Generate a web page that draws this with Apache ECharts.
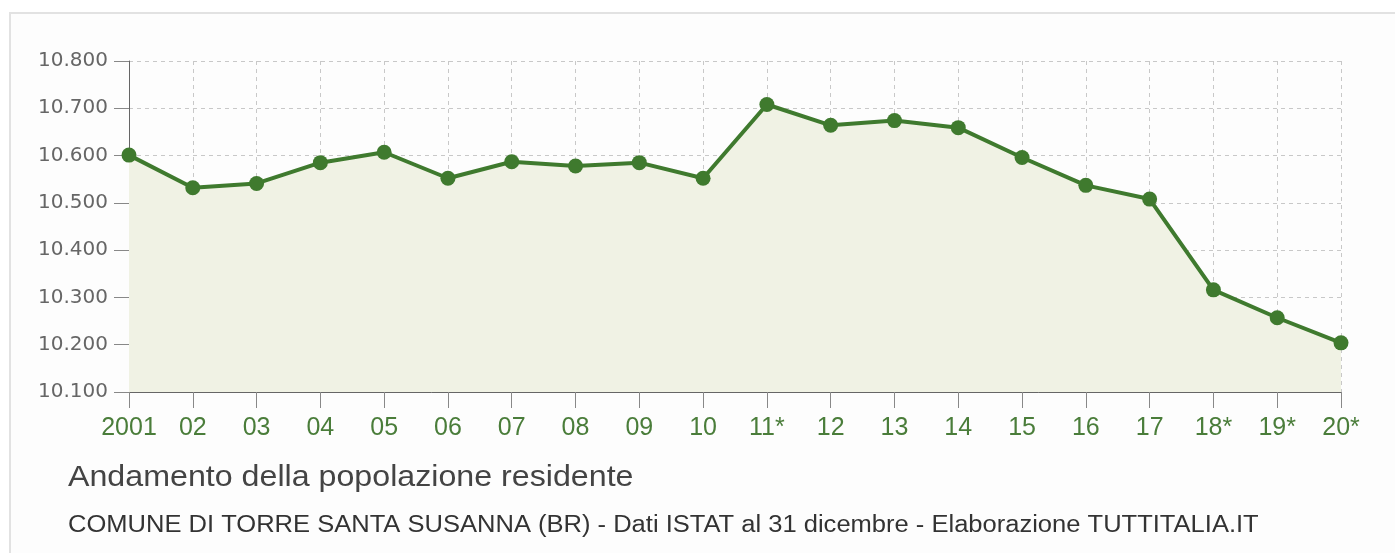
<!DOCTYPE html>
<html>
<head>
<meta charset="utf-8">
<script src="https://cdn.jsdelivr.net/npm/echarts@6/dist/echarts.min.js"></script>
<style>
  html, body { margin: 0; padding: 0; background: #fff; }
  .box {
    position: absolute; left: 9px; top: 12px; width: 1400px; height: 560px;
    border: 2px solid #e2e2e2; background: #fdfdfd;
  }
  #chart { position: absolute; left: 0; top: 0; width: 1395px; height: 553px; }
</style>
</head>
<body>
<div class="box"></div>
<div id="chart"></div>
<script>
// anni (etichette asse x)
var years = ['2001', '02', '03', '04', '05', '06', '07', '08', '09', '10',
  '11*', '12', '13', '14', '15', '16', '17', '18*', '19*', '20*']
// popolazione residente al 31 dicembre
var population = [10601, 10532, 10541, 10585, 10607, 10552, 10587, 10578, 10585, 10552,
  10708, 10664, 10674, 10659, 10596, 10537, 10508, 10316, 10257, 10204]
var yMin = 10100
var yMax = 10800
var yStep = 100

var title = 'Andamento della popolazione residente'
var subtitle = 'COMUNE DI TORRE SANTA SUSANNA (BR) - Dati ISTAT al 31 dicembre - Elaborazione TUTTITALIA.IT'

var green = '#3f7a2e'
var font = '"Liberation Sans", Arial, sans-serif'

function fmt (v) {
  var s = String(v)
  return s.slice(0, s.length - 3) + '.' + s.slice(s.length - 3)
}

var chart = echarts.init(document.getElementById('chart'))
chart.setOption({
  animation: false,
  textStyle: { fontFamily: font },
  // titoli come testo grafico (leggermente allargato come nell'originale)
  graphic: [
    {
      type: 'text', x: 68, y: 478, scaleX: 1.11, originX: 0,
      style: { text: title, font: '29px "Liberation Sans", Arial, sans-serif', fill: '#444', verticalAlign: 'middle' }
    },
    {
      type: 'text', x: 68, y: 526, scaleX: 1.11, originX: 0,
      style: { text: subtitle, font: '23px "Liberation Sans", Arial, sans-serif', fill: '#333', verticalAlign: 'middle' }
    }
  ],
  grid: { left: 129, right: 54, top: 61, bottom: 161, containLabel: false },
  xAxis: {
    type: 'category',
    data: years,
    boundaryGap: false,
    axisLine: { lineStyle: { color: '#666', width: 1 } },
    axisTick: { length: 16, alignWithLabel: true, interval: 0, lineStyle: { color: '#888' } },
    axisLabel: { color: '#4a7d3a', fontSize: 25, margin: 24, interval: 0, fontFamily: font },
    splitLine: { show: true, interval: 0, lineStyle: { color: '#c8c8c8', type: [4, 4] } }
  },
  yAxis: {
    type: 'value',
    min: yMin,
    max: yMax,
    interval: yStep,
    axisLine: { show: true, lineStyle: { color: '#666', width: 1 } },
    axisTick: { show: true, length: 15, lineStyle: { color: '#888' } },
    axisLabel: { color: '#666', fontSize: 20, margin: 21, fontFamily: '"DejaVu Sans", sans-serif', formatter: fmt },
    splitLine: { show: true, lineStyle: { color: '#c8c8c8', type: [4, 4] } }
  },
  series: [{
    type: 'line',
    data: population,
    symbol: 'circle',
    symbolSize: 15,
    lineStyle: { color: green, width: 4 },
    itemStyle: { color: green },
    areaStyle: { color: '#f0f2e4', opacity: 1 }
  }]
})
</script>
</body>
</html>
